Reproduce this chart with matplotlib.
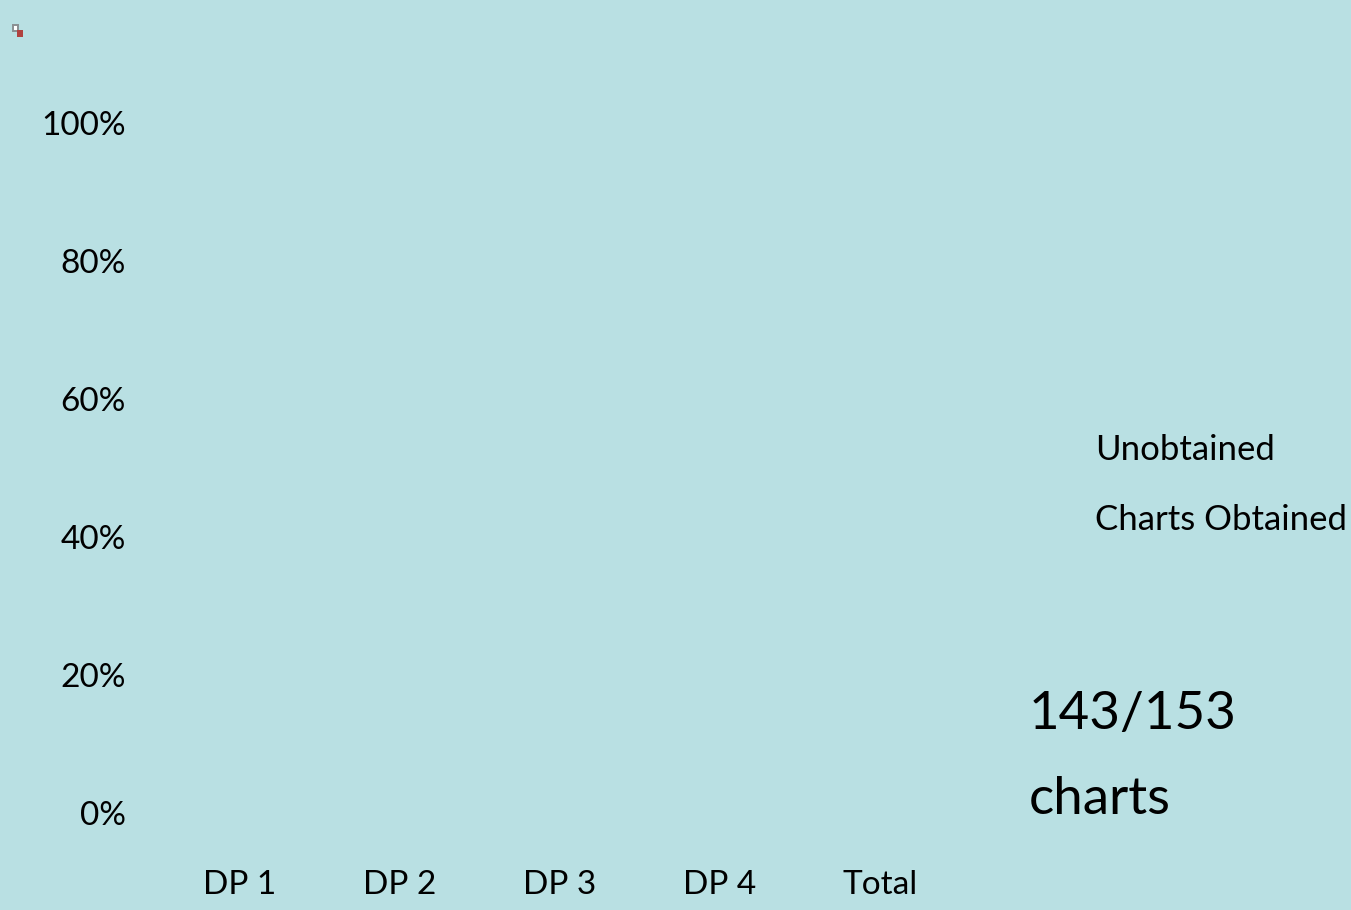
import matplotlib
matplotlib.use("Agg")
import matplotlib.pyplot as plt
from matplotlib.patches import Rectangle

plt.rcParams['font.family'] = ['Lato', 'DejaVu Sans']

# подписи осей
categories = ["DP 1", "DP 2", "DP 3", "DP 4", "Total"]
y_ticks = [0, 20, 40, 60, 80, 100]
y_labels = ["0%", "20%", "40%", "60%", "80%", "100%"]
legend_labels = ["Unobtained", "Charts Obtained"]
note_lines = ["143/153", "charts"]

bg = "#b9e0e3"
W, H = 1351, 910

fig = plt.figure(figsize=(W / 100, H / 100), dpi=100, facecolor=bg)
ax = fig.add_axes([160 / W, (H - 813) / H, 800 / W, 690 / H], facecolor=bg)

ax.set_xlim(-0.5, 4.5)
ax.set_ylim(0, 100)
ax.set_xticks(range(len(categories)))
ax.set_xticklabels(categories, fontsize=24)
ax.set_yticks(y_ticks)
ax.set_yticklabels(y_labels, fontsize=24)
ax.tick_params(length=0)
ax.tick_params(axis='x', pad=41)
ax.tick_params(axis='y', pad=24.5)
for s in ax.spines.values():
    s.set_visible(False)

# легенда без значков
fig.text(1095 / W, 1 - 450 / H, legend_labels[0], fontsize=25, va='center')
fig.text(1095 / W, 1 - 520 / H, legend_labels[1], fontsize=25, va='center')

# подпись справа внизу
fig.text(1029 / W, 1 - 714 / H, note_lines[0], fontsize=38, va='center')
fig.text(1029 / W, 1 - 799 / H, note_lines[1], fontsize=38, va='center')

# значок битой картинки в углу
fig.add_artist(Rectangle((12.5 / W, 1 - 30.5 / H), 5 / W, 6 / H, transform=fig.transFigure,
                         facecolor="white", edgecolor="#8a8f92", lw=1.4))
fig.add_artist(Rectangle((17 / W, 1 - 37 / H), 6 / W, 7 / H, transform=fig.transFigure,
                         facecolor="#b0423f", edgecolor="none"))

fig.savefig("out.png", dpi=100, facecolor=bg)
